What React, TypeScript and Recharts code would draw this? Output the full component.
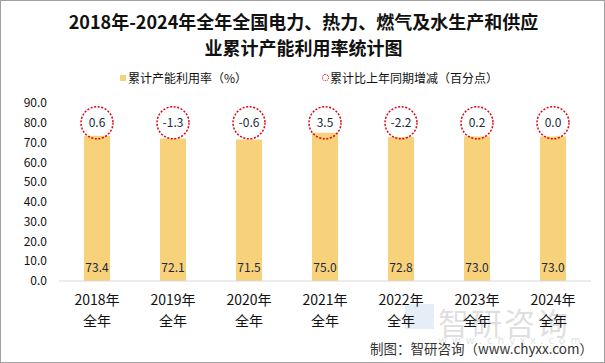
import React from 'react';
import { ComposedChart, Bar, Scatter, XAxis, YAxis, LabelList } from 'recharts';

const years = ['2018年', '2019年', '2020年', '2021年', '2022年', '2023年', '2024年'];
const periodLabel = '全年';
const utilization = [73.4, 72.1, 71.5, 75.0, 72.8, 73.0, 73.0];
const yoyChange = [0.6, -1.3, -0.6, 3.5, -2.2, 0.2, 0.0];
const yTicks = [0, 10, 20, 30, 40, 50, 60, 70, 80, 90];
const MARKER_LEVEL = 80;

const data = years.map((y, i) => ({
  year: y,
  value: utilization[i],
  change: yoyChange[i],
  marker: MARKER_LEVEL,
}));

const FONT = '"Noto Sans CJK SC", "Noto Sans", sans-serif';
const BAR_COLOR = '#F7D27B';
const RED = '#E60012';

const XTick = (props: any) => {
  const { x, y, payload } = props;
  return (
    <g>
      <text x={x} y={y + 16} textAnchor="middle" fontSize={14} fill="#111" fontFamily={FONT}>
        {payload.value}
      </text>
      <text x={x} y={y + 37} textAnchor="middle" fontSize={14} fill="#111" fontFamily={FONT}>
        {periodLabel}
      </text>
    </g>
  );
};

const Marker = (props: any) => {
  const { cx, cy, payload } = props;
  if (cx == null || cy == null) return null;
  return (
    <g>
      <circle cx={cx} cy={cy} r={16} fill="none" stroke={RED} strokeWidth={1.5} strokeDasharray="2 1.6" />
      <text x={cx} y={cy + 4.5} textAnchor="middle" fontSize={12} fill="#1b2a3a" fontFamily={FONT}>
        {Number(payload.change).toFixed(1)}
      </text>
    </g>
  );
};

export default function App() {
  return (
    <div
      style={{
        position: 'absolute',
        left: 0,
        top: 0,
        width: 605,
        height: 363,
        background: '#fff',
        fontFamily: FONT,
        boxSizing: 'border-box',
        border: '1px solid #a0a0a0',
        overflow: 'hidden',
      }}
    >
      <div
        style={{
          position: 'absolute',
          left: 0,
          top: 7,
          width: 605,
          textAlign: 'center',
          fontSize: 18,
          fontWeight: 'bold',
          lineHeight: '26px',
          color: '#111',
        }}
      >
        2018年-2024年全年全国电力、热力、燃气及水生产和供应
        <br />
        业累计产能利用率统计图
      </div>
      {/* watermark */}
      <div
        style={{
          position: 'absolute',
          left: 437,
          top: 298,
          fontSize: 31,
          color: '#000',
          opacity: 0.12,
          letterSpacing: 2,
          whiteSpace: 'nowrap',
        }}
      >
        智研咨询
      </div>
      <div
        style={{
          position: 'absolute',
          left: 404,
          top: 303,
          width: 29,
          height: 25,
          background: '#5b8ec9',
          opacity: 0.16,
        }}
      />
      <div
        style={{
          position: 'absolute',
          left: 437,
          top: 330,
          fontSize: 11,
          color: '#000',
          opacity: 0.12,
          letterSpacing: 5,
          whiteSpace: 'nowrap',
        }}
      >
        www.chyxx.com
      </div>
      {/* legend */}
      <div style={{ position: 'absolute', left: 119, top: 68, fontSize: 12, color: '#111', whiteSpace: 'nowrap', display: 'flex', alignItems: 'center' }}>
        <span style={{ display: 'inline-block', width: 6, height: 6, background: BAR_COLOR, marginRight: 2 }} />
        累计产能利用率（%）
      </div>
      <div style={{ position: 'absolute', left: 321, top: 68, fontSize: 12, color: '#111', whiteSpace: 'nowrap', display: 'flex', alignItems: 'center' }}>
        <span
          style={{
            display: 'inline-block',
            width: 5,
            height: 5,
            borderRadius: '50%',
            border: `1px dotted ${RED}`,
            marginRight: 1,
          }}
        />
        累计比上年同期增减（百分点）
      </div>
      <div
        style={{
          position: 'absolute',
          right: 11,
          top: 337,
          fontSize: 13.5,
          color: '#333',
          whiteSpace: 'nowrap',
        }}
      >
        制图：智研咨询（www.chyxx.com）
      </div>
      <div style={{ position: 'absolute', left: -1, top: -1 }}>
        <ComposedChart
          width={605}
          height={363}
          data={data}
          margin={{ top: 103, right: 14, left: 14, bottom: 32 }}
        >
          <XAxis
            dataKey="year"
            axisLine={{ stroke: '#d9d9d9', strokeWidth: 1 }}
            tickLine={false}
            height={50}
            interval={0}
            tick={<XTick />}
          />
          <YAxis
            domain={[0, 90]}
            ticks={yTicks}
            width={45}
            axisLine={false}
            tickLine={false}
            tickMargin={6}
            tickFormatter={(v: number) => v.toFixed(1)}
            tick={{ fontSize: 12, fill: '#111', fontFamily: FONT }}
            interval={0}
          />
          <Bar dataKey="value" fill={BAR_COLOR} barSize={26} isAnimationActive={false}>
            <LabelList
              dataKey="value"
              position="insideBottom"
              offset={9}
              formatter={(v: any) => Number(v).toFixed(1)}
              style={{ fontSize: 12, fill: '#1b2a3a', fontFamily: FONT }}
            />
          </Bar>
          <Scatter dataKey="marker" shape={<Marker />} isAnimationActive={false} />
        </ComposedChart>
      </div>
    </div>
  );
}
